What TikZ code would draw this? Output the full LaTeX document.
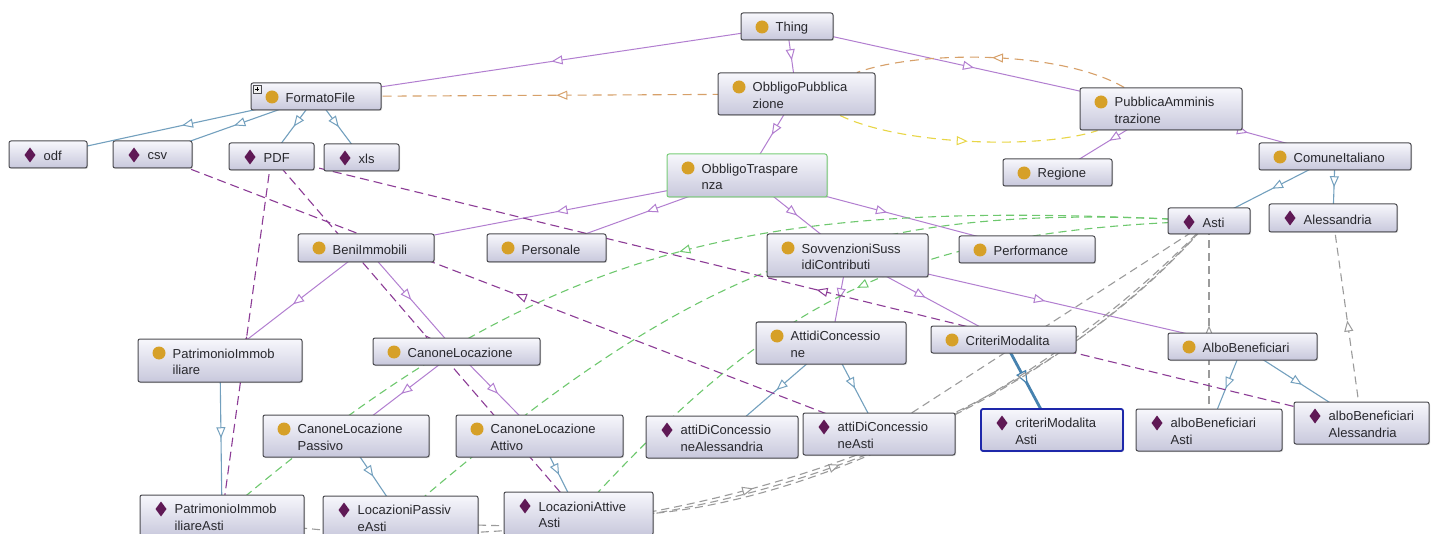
\documentclass[tikz,border=0pt]{standalone}
\usepackage{fontspec}
\setmainfont{Liberation Sans}
\usetikzlibrary{arrows.meta,decorations.markings,shadows}
\pgfdeclarelayer{edges}
\pgfsetlayers{edges,main}
\definecolor{subcol}{RGB}{178,126,208}
\definecolor{instcol}{RGB}{115,160,190}
\definecolor{critcol}{RGB}{70,130,175}
\definecolor{orcol}{RGB}{215,160,105}
\definecolor{yelcol}{RGB}{232,214,70}
\definecolor{grcol}{RGB}{110,200,110}
\definecolor{grycol}{RGB}{155,155,155}
\definecolor{pdcol}{RGB}{140,60,150}
\definecolor{txtcol}{RGB}{40,40,45}
\definecolor{boxtop}{RGB}{247,247,252}
\definecolor{boxbot}{RGB}{200,200,220}
\definecolor{boxline}{RGB}{75,75,80}
\definecolor{iconorange}{RGB}{214,160,40}
\definecolor{iconpurple}{RGB}{95,25,85}
\definecolor{otgreen}{RGB}{120,205,120}
\definecolor{selblue}{RGB}{30,40,170}
\tikzset{
  obox/.style={draw=boxline, line width=1pt, rounded corners=2pt, top color=boxtop, bottom color=boxbot, inner sep=0pt,
    drop shadow={shadow xshift=1pt, shadow yshift=-1pt, opacity=0.3}},
  lbl/.style={anchor=west, xshift=35pt, yshift=-1.5pt, inner sep=0pt, align=left, font=\fontsize{13}{16.5}\selectfont, text=txtcol},
  clsi/.style={path picture={\fill[iconorange] ([xshift=21pt,yshift=-14pt]path picture bounding box.north west) circle (6.5pt);}},
  indi/.style={path picture={\fill[iconpurple,sharp corners] ([xshift=21pt,yshift=-6.5pt]path picture bounding box.north west) -- ++(5.5pt,-7.5pt) -- ++(-5.5pt,-7.5pt) -- ++(-5.5pt,7.5pt) -- cycle;}},
  midarrow/.style={postaction={decorate}, decoration={markings, mark=at position 0.5 with {\pgfsetdash{}{0pt}\arrow{Triangle[length=11pt,width=9pt,fill=white,line width=1pt]}}}},
  bigarrow/.style={postaction={decorate}, decoration={markings, mark=at position 0.5 with {\pgfsetdash{}{0pt}\arrow{Triangle[length=14pt,width=11pt,fill=white,line width=1.2pt]}}}},
  subedge/.style={draw=subcol, line width=1pt, midarrow},
  instedge/.style={draw=instcol, line width=1.1pt, midarrow},
  critedge/.style={draw=critcol, line width=2.8pt, bigarrow},
  ordash/.style={draw=orcol, line width=1.1pt, dash pattern=on 9pt off 6pt, midarrow},
  yeldash/.style={draw=yelcol, line width=1.1pt, dash pattern=on 9pt off 6pt, midarrow},
  grdash/.style={draw=grcol, line width=1.1pt, dash pattern=on 8pt off 5pt, midarrow},
  grydash/.style={draw=grycol, line width=1.1pt, dash pattern=on 8pt off 5pt, midarrow},
  pdash/.style={draw=pdcol, line width=1.1pt, dash pattern=on 9pt off 5pt, midarrow},
  plusbox/.style={draw=boxline, line width=0.5pt, fill=white!88!gray, minimum size=8pt, inner sep=0pt,
    path picture={\draw[line width=0.7pt,black] ([xshift=2pt]path picture bounding box.west) -- ([xshift=-2pt]path picture bounding box.east)
      ([yshift=-2pt]path picture bounding box.north) -- ([yshift=2pt]path picture bounding box.south);}}
}
\newcommand\obnode[7]{\node[obox,#6,minimum width={#4-#2},minimum height={#5-#3},label={[lbl]west:{#7}}] (#1) at ({(#2+#4)/2},{(#3+#5)/2}) {};}
\begin{document}
\begin{tikzpicture}[x=1pt,y=-1pt]
\useasboundingbox (0,0) rectangle (1431,534);
\obnode{Thing}{741}{13}{833}{40}{clsi}{Thing}
\obnode{FF}{251}{83}{381}{110}{clsi}{FormatoFile}
\node[plusbox] (ffplus) at (257,89) {};
\obnode{OP}{718}{73}{875}{115}{clsi}{ObbligoPubblica\\zione}
\obnode{PA}{1080}{88}{1242}{130}{clsi}{PubblicaAmminis\\trazione}
\obnode{CI}{1259}{143}{1411}{170}{clsi}{ComuneItaliano}
\obnode{Reg}{1003}{159}{1112}{186}{clsi}{Regione}
\obnode{odf}{9}{141}{87}{168}{indi}{odf}
\obnode{csv}{113}{141}{192}{168}{indi}{csv}
\obnode{PDF}{229}{143}{314}{170}{indi}{PDF}
\obnode{xls}{324}{144}{399}{171}{indi}{xls}
\obnode{OT}{667}{154}{827}{197}{clsi,draw=otgreen}{ObbligoTraspare\\nza}
\obnode{BI}{298}{234}{434}{262}{clsi}{BeniImmobili}
\obnode{Pers}{487}{234}{606}{262}{clsi}{Personale}
\obnode{SSC}{767}{234}{928}{277}{clsi}{SovvenzioniSuss\\idiContributi}
\obnode{Perf}{959}{236}{1095}{263}{clsi}{Performance}
\obnode{Asti}{1168}{208}{1250}{234}{indi}{Asti}
\obnode{Ale}{1269}{204}{1397}{232}{indi}{Alessandria}
\obnode{PI}{138}{339}{302}{382}{clsi}{PatrimonioImmob\\iliare}
\obnode{CL}{373}{338}{540}{365}{clsi}{CanoneLocazione}
\obnode{AdC}{756}{322}{906}{364}{clsi}{AttidiConcessio\\ne}
\obnode{CM}{931}{326}{1076}{353}{clsi}{CriteriModalita}
\obnode{AB}{1168}{333}{1317}{360}{clsi}{AlboBeneficiari}
\obnode{CLP}{263}{415}{429}{457}{clsi}{CanoneLocazione\\Passivo}
\obnode{CLA}{456}{415}{623}{457}{clsi}{CanoneLocazione\\Attivo}
\obnode{aDCAl}{646}{416}{798}{458}{indi}{attiDiConcessio\\neAlessandria}
\obnode{aDCAsti}{803}{413}{955}{455}{indi}{attiDiConcessio\\neAsti}
\obnode{cMA}{981}{409}{1123}{451}{indi,draw=selblue,line width=1.8pt}{criteriModalita\\Asti}
\obnode{aBA}{1136}{409}{1282}{451}{indi}{alboBeneficiari\\Asti}
\obnode{aBAl}{1294}{402}{1429}{444}{indi}{alboBeneficiari\\Alessandria}
\obnode{PIA}{140}{495}{304}{537}{indi}{PatrimonioImmob\\iliareAsti}
\obnode{LPA}{323}{496}{478}{538}{indi}{LocazioniPassiv\\eAsti}
\obnode{LAA}{504}{492}{653}{535}{indi}{LocazioniAttive\\Asti}
\begin{pgfonlayer}{edges}
\fill[white] (0,0) rectangle (1431,534);
% subclass
\draw[subedge] (Thing.center) -- (FF.center);
\draw[subedge] (Thing.center) -- (OP.center);
\draw[subedge] (Thing.center) -- (PA.center);
\draw[subedge] (OP.center) -- (OT.center);
\draw[subedge] (PA.center) -- (Reg.center);
\draw[subedge] (PA.center) -- (CI.center);
\draw[subedge] (OT.center) -- (BI.center);
\draw[subedge] (OT.center) -- (Pers.center);
\draw[subedge] (OT.center) -- (SSC.center);
\draw[subedge] (OT.center) -- (Perf.center);
\draw[subedge] (BI.center) -- (PI.center);
\draw[subedge] (BI.center) -- (CL.center);
\draw[subedge] (SSC.center) -- (AdC.center);
\draw[subedge] (SSC.center) -- (CM.center);
\draw[subedge] (SSC.center) -- (AB.center);
\draw[subedge] (CL.center) -- (CLP.center);
\draw[subedge] (CL.center) -- (CLA.center);
% individuals
\draw[instedge] (FF.center) -- (odf.center);
\draw[instedge] (FF.center) -- (csv.center);
\draw[instedge] (FF.center) -- (PDF.center);
\draw[instedge] (FF.center) -- (xls.center);
\draw[instedge] (CI.center) -- (Asti.center);
\draw[instedge] (CI.center) -- (Ale.center);
\draw[instedge] (PI.center) -- (PIA.center);
\draw[instedge] (CLP.center) -- (LPA.center);
\draw[instedge] (CLA.center) -- (LAA.center);
\draw[instedge] (AdC.center) -- (aDCAl.center);
\draw[instedge] (AdC.center) -- (aDCAsti.center);
\draw[instedge] (AB.center) -- (aBA.center);
\draw[instedge] (AB.center) -- (aBAl.center);
\draw[critedge] (CM.center) -- (cMA.center);
% domain / range
\draw[ordash] (OP.center) -- (FF.center);
\draw[ordash] (PA) .. controls (1060,50) and (920,50) .. (OP);
\draw[yeldash] (OP) .. controls (900,145) and (1040,150) .. (PA);
% green
\draw[grdash] (Asti.center) .. controls (759,198) and (552,234) .. (PIA.center);
\draw[grdash] (Asti.center) .. controls (859,200) and (700,259) .. (LPA.center);
\draw[grdash] (Asti.center) .. controls (909,230) and (778,294) .. (LAA.center);
% gray
\draw[grydash] (aBA.center) -- (Asti.center);
\draw[grydash] (aBAl.center) -- (Ale.center);
\draw[grydash] (aDCAsti.center) -- (Asti.center);
\draw[grydash] (LAA.center) .. controls (720,530) and (1000,440) .. (Asti.center);
\draw[grydash] (LPA.center) .. controls (620,555) and (990,470) .. (Asti.center);
\draw[grydash] (PIA.center) .. controls (520,575) and (980,490) .. (Asti.center);
% purple dashed
\draw[pdash] (aDCAsti.center) -- (csv.center);
\draw[pdash] (PIA.center) -- (PDF.center);
\draw[pdash] (LAA.center) -- (PDF.center);
\draw[pdash] (aBAl.center) -- (PDF.center);
\end{pgfonlayer}
\end{tikzpicture}
\end{document}
